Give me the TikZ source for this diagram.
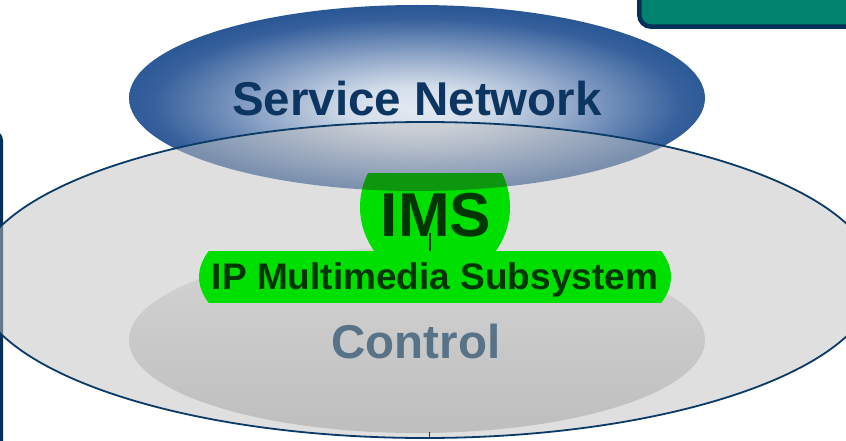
\documentclass[tikz,border=0pt]{standalone}
\usepackage{fontspec}
\setmainfont{Liberation Sans}

\definecolor{navyframe}{HTML}{06305A}
\definecolor{navyline}{HTML}{0A3A66}
\definecolor{tealbox}{HTML}{00826F}
\definecolor{svclight}{HTML}{E2E9F2}
\definecolor{svcsoft}{HTML}{D3DDEA}
\definecolor{svcmid}{HTML}{95ABCB}
\definecolor{svcdeep}{HTML}{36609C}
\definecolor{svcdark}{HTML}{174B8B}
\definecolor{svctext}{HTML}{0D3561}
\definecolor{layerfill}{HTML}{C1C1C1}
\definecolor{ctrltop}{HTML}{D4D4D4}
\definecolor{ctrlbot}{HTML}{BEBEBE}
\definecolor{ctrltext}{HTML}{587288}
\definecolor{imsgreen}{HTML}{00E000}
\definecolor{imsshade}{HTML}{0E960E}
\definecolor{imstext}{HTML}{013501}

% light core fading to deep blue at the rim of the service ellipse
% (the rim of the ellipse falls at about 35bp of the shading)
\pgfdeclareradialshading{svcshade}{\pgfpoint{0bp}{-3bp}}{%
  color(0bp)=(svclight); color(6bp)=(svcsoft); color(13bp)=(svcmid);
  color(23bp)=(svcdeep); color(31bp)=(svcdark); color(50bp)=(svcdark)}

\tikzset{
  label/.style={inner sep=0pt, anchor=base},
  bigtext/.style={label, font=\bfseries\fontsize{47.5}{50}\selectfont},
}

\begin{document}
\begin{tikzpicture}[x=1pt,y=-1pt]
\useasboundingbox[fill=white] (0,0) rectangle (846,441);

% frames reaching in from the left edge and the top right corner
\draw[line width=3pt, draw=navyframe, fill=white, rounded corners=9pt]
  (-40,131.5) rectangle (1.5,480);
\draw[line width=4.5pt, draw=navyframe, fill=tealbox, rounded corners=12pt]
  (639.25,-30) rectangle (880,26.75);

% service network layer
\shade[shading=svcshade] (417,98) ellipse [x radius=288pt, y radius=93pt];

% the wide network layer, half transparent over the service layer
\draw[line width=1.8pt, draw=navyline, fill=layerfill, fill opacity=0.5]
  (425,280) ellipse [x radius=451pt, y radius=158pt];

% control layer
\shade[top color=ctrltop, bottom color=ctrlbot]
  (417,340) ellipse [x radius=288pt, y radius=93pt];

% IMS disc, flat on top, darker where the service layer lies over it
\begin{scope}
  \clip (340,173) rectangle (530,300);
  \fill[imsgreen] (435,207) circle [radius=75pt];
  \clip (417,98) ellipse [x radius=288pt, y radius=93pt];
  \fill[imsshade] (435,207) circle [radius=75pt];
\end{scope}

% IP Multimedia Subsystem band
\begin{scope}
  \clip (180,251) rectangle (700,302);
  \fill[imsgreen] (435,277) ellipse [x radius=236pt, y radius=91pt];
\end{scope}

% texts
\node[bigtext, text=svctext] (svc) at (417,116) {Service Network};
\node[label, text=imstext, font=\bfseries\fontsize{62}{64}\selectfont] (ims) at (436,236) {IMS};
\node[label, text=imstext, font=\bfseries\fontsize{37}{40}\selectfont] (sub) at (435,289) {IP Multimedia Subsystem};
\node[bigtext, text=ctrltext] (ctl) at (416,358) {Control};

% short stem below the IMS lettering and its tick at the bottom rim
\coordinate (stemtop) at (430,233);
\coordinate (stembot) at (430,251);
\coordinate (ticktop) at (429.5,432);
\coordinate (tickbot) at (429.5,439);
\draw[line width=1.2pt, draw=imstext] (stemtop) -- (stembot);
\draw[line width=1.5pt, draw=navyline] (ticktop) -- (tickbot);
\end{tikzpicture}
\end{document}
